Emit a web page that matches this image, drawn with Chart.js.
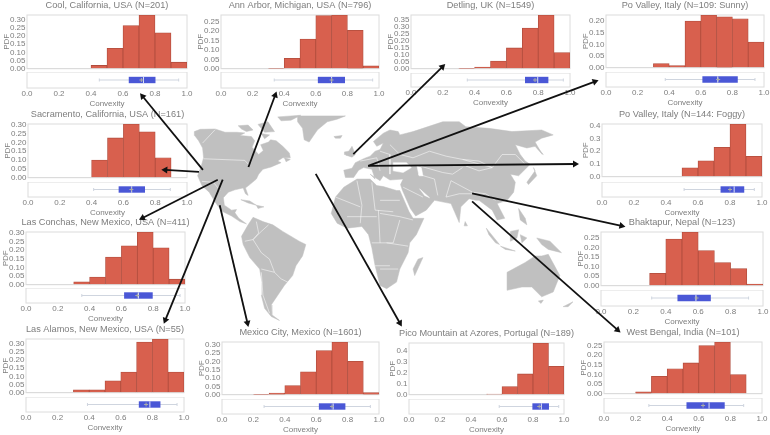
<!DOCTYPE html>
<html>
<head>
<meta charset="utf-8">
<title>Convexity by site</title>
<script src="https://cdn.jsdelivr.net/npm/chart.js@4"></script>
<style>
html,body{margin:0;padding:0;background:#fff;width:770px;height:435px;overflow:hidden}
canvas{position:absolute;filter:blur(.3px)}
</style>
</head>
<body>
<script>
// ======================
// data
const binLabels = ["0.0","0.1","0.2","0.3","0.4","0.5","0.6","0.7","0.8","0.9"];

const siteTitles = [
  "Cool, California, USA (N=201)",
  "Ann Arbor, Michigan, USA (N=796)",
  "Detling, UK (N=1549)",
  "Po Valley, Italy (N=109: Sunny)",
  "Sacramento, California, USA (N=161)",
  "Po Valley, Italy (N=144: Foggy)",
  "Las Conchas, New Mexico, USA (N=411)",
  "Bhaktapur, Nepal (N=123)",
  "Las Alamos, New Mexico, USA (N=55)",
  "Mexico City, Mexico (N=1601)",
  "Pico Mountain at Azores, Portugal (N=189)",
  "West Bengal, India (N=101)"
];

const pdfCool       = [0,0,0,0,.02,.125,.265,.33,.22,.04];
const pdfAnnArbor   = [0,0,0,.002,.055,.158,.283,.286,.205,.015];
const pdfDetling    = [0,0,0,.002,.012,.055,.148,.29,.383,.115];
const pdfPoSunny    = [0,0,0,.018,.009,.2,.226,.218,.21,.11];
const pdfSacramento = [0,0,0,0,.1,.225,.304,.26,.113,0];
const pdfPoFoggy    = [0,0,0,0,0,.07,.125,.23,.413,.16];
const pdfConchas    = [0,0,0,.017,.044,.16,.225,.305,.213,.032];
const pdfBhaktapur  = [0,0,0,.065,.245,.282,.185,.122,.09,.008];
const pdfAlamos     = [0,0,0,.018,.018,.073,.127,.31,.329,.127];
const pdfMexico     = [0,0,.001,.01,.055,.137,.265,.316,.2,.012];
const pdfPico       = [0,0,0,0,0,.005,.075,.19,.473,.26];
const pdfBengal     = [0,0,.01,.09,.13,.16,.25,.269,.1,0];

// lo, q1, median, q3, hi, mean
const boxCool       = [.452,.636,.728,.803,.948,.715];
const boxAnnArbor   = [.337,.613,.70,.785,.96,.70];
const boxDetling    = [.354,.717,.797,.864,.958,.78];
const boxPoSunny    = [.375,.61,.707,.834,.943,.71];
const boxSacramento = [.413,.57,.652,.736,.895,.65];
const boxPoFoggy    = [.513,.741,.826,.889,.952,.80];
const boxConchas    = [.351,.617,.707,.797,.969,.70];
const boxBhaktapur  = [.313,.472,.586,.678,.911,.59];
const boxAlamos     = [.389,.714,.784,.851,.956,.76];
const boxMexico     = [.268,.617,.708,.786,.945,.70];
const boxPico       = [.582,.796,.854,.903,.966,.84];
const boxBengal     = [.284,.522,.665,.764,.884,.627];

const pdfTop  = [.33,.286,.383,.226,.304,.413,.305,.282,.329,.316,.473,.269];
const pdfStep = [.05,.05,.05,.05,.05,.1,.05,.05,.05,.05,.1,.05];

// ======================
// where each panel sits: left, right, hist top, hist bottom, box top, box bottom
const panelRects = [
  [27,187,15,69,72,88],
  [221,379,15,69,72,88],
  [411,570,15,69,73,87],
  [606,764,15,68,72,87],
  [28,187,124,178,182,197],
  [602,762,124,177,182,197],
  [26,185,232,285,288,303],
  [601,763,232,286,290,306],
  [26,184,339,393,397,412],
  [222,379,342,395,399,414],
  [409,564,343,395,399,414],
  [604,762,342,394,398,413]
];

const allPdf = [pdfCool,pdfAnnArbor,pdfDetling,pdfPoSunny,pdfSacramento,pdfPoFoggy,pdfConchas,pdfBhaktapur,pdfAlamos,pdfMexico,pdfPico,pdfBengal];
const allBox = [boxCool,boxAnnArbor,boxDetling,boxPoSunny,boxSacramento,boxPoFoggy,boxConchas,boxBhaktapur,boxAlamos,boxMexico,boxPico,boxBengal];

// arrows: from, to (page pixels)
const arrowPaths = [
  [[201,169],[140,94]],
  [[247,166],[274,93]],
  [[353,153],[443,64]],
  [[368,165],[597,79]],
  [[368,165],[577,163]],
  [[473,193],[624,226]],
  [[473,201],[620,332]],
  [[315,173],[400,325]],
  [[218,205],[246,325]],
  [[221,179],[163,322]],
  [[216,179],[140,218]],
  [[197,171],[163,169]]
];

// map outline, traced in the 3x crops. west = 180,110 origin, east = 380,110 origin
const westLand = [
  // north america
  [[37,60],[55,53],[100,52],[130,62],[165,62],[190,64],[175,72],[210,75],[220,88],[212,108],[232,130],[246,118],[238,100],[262,92],[268,85],[285,88],[305,105],[325,125],[328,140],[305,140],[290,150],[300,155],[270,168],[245,175],[232,190],[225,205],[205,222],[192,232],[200,255],[192,250],[185,232],[160,238],[140,245],[125,262],[128,285],[150,300],[165,298],[160,308],[172,325],[195,342],[175,335],[150,318],[120,303],[100,275],[82,245],[60,225],[47,195],[58,165],[65,140],[62,110],[50,88],[38,72]],
  // arctic islands
  [[170,42],[200,40],[215,55],[195,60],[180,52]],
  [[230,38],[260,30],[280,60],[250,62],[240,50]],
  [[290,15],[360,10],[330,25],[300,27]],
  [[240,66],[265,70],[250,82]],
  [[310,140],[328,145],[315,152]],
  // greenland
  [[350,12],[495,12],[470,22],[440,30],[410,55],[385,92],[370,85],[365,50],[350,30]],
  [[460,75],[485,72],[480,80],[465,80]],
  // caribbean
  [[178,268],[205,272],[225,285],[200,278]],
  [[225,285],[248,290],[230,295]],
  // south america
  [[215,322],[245,335],[275,345],[305,365],[355,395],[375,405],[365,440],[345,470],[335,500],[310,530],[290,560],[270,590],[272,620],[295,637],[270,625],[250,600],[240,560],[242,520],[235,480],[205,445],[185,405],[180,380],[200,345]],
  // uk + ireland
  [[515,105],[525,130],[515,138],[497,132]],
  [[492,122],[505,120],[500,132],[492,130]]
];

const eastLand = [
  // eurasia
  [[-110,178],[-85,172],[-75,155],[-48,142],[-30,135],[-15,120],[0,115],[10,95],[-10,105],[-20,90],[10,65],[30,55],[55,60],[60,70],[100,60],[130,50],[160,40],[190,30],[240,30],[260,45],[330,50],[400,60],[490,55],[525,70],[490,80],[470,92],[492,130],[470,105],[445,110],[410,100],[425,130],[440,150],[455,160],[440,175],[420,195],[395,190],[410,215],[405,245],[385,270],[355,280],[378,325],[355,330],[340,300],[320,285],[300,270],[290,270],[270,265],[245,290],[240,338],[215,280],[165,270],[140,300],[108,318],[92,295],[68,240],[62,222],[70,205],[30,208],[10,195],[0,210],[-30,190],[-15,205],[-25,175],[-50,170],[-65,178],[-80,200],[-105,200]],
  // africa
  [[-110,230],[-70,205],[-30,205],[-10,225],[10,228],[50,240],[60,240],[88,305],[100,325],[133,325],[110,375],[90,400],[85,430],[60,480],[50,520],[20,540],[0,530],[-15,470],[-25,415],[-35,375],[-55,350],[-100,355],[-130,340],[-148,310],[-135,260]],
  // islands
  [[322,355],[362,405],[350,400],[330,375]],
  [[395,365],[420,360],[415,385],[395,395]],
  [[365,410],[410,425],[380,420]],
  [[425,375],[445,385],[430,400]],
  [[475,385],[515,395],[550,430],[510,420],[490,405]],
  [[420,295],[440,325],[445,345],[425,330]],
  [[445,215],[470,180],[465,170],[475,195],[450,222]],
  [[470,100],[495,130],[480,115]],
  [[385,490],[440,460],[470,440],[490,440],[510,435],[545,500],[525,550],[490,565],[460,535],[430,535],[385,545]],
  [[130,445],[105,500],[100,480],[115,450]],
  [[555,595],[585,580],[570,595]],
  [[480,578],[495,575],[488,585]],
  [[258,335],[265,348],[255,348]]
];

const eastWater = [
  [[112,165],[125,170],[130,195],[118,195]],
  [[40,155],[80,155],[95,170],[70,185],[40,180]],
  [[120,235],[150,262],[135,255]]
];

const westBorders = [
  [[65,143],[190,148],[205,165]],
  [[100,54],[62,95]],
  [[60,212],[95,215],[115,240]],
  [[225,335],[232,370],[215,390],[190,395]],
  [[262,345],[240,365],[215,390],[240,430],[265,450],[280,490],[300,510],[320,520]],
  [[240,490],[245,560],[265,615]],
  [[240,480],[280,490]],
  [[465,260],[540,290]],
  [[530,210],[545,285],[540,340]],
  [[575,215],[585,300],[640,305]],
  [[500,320],[590,320]],
  [[595,300],[600,400]],
  [[575,400],[640,400]],
  [[585,470],[630,470]]
];

const eastBorders = [
  [[0,270],[60,270]],
  [[0,310],[60,320],[100,330]],
  [[60,330],[40,400]],
  [[20,400],[85,410]],
  [[0,480],[55,480]],
  [[30,100],[60,130],[100,140],[150,120],[200,135],[250,145],[300,150],[340,170],[370,130],[410,130],[440,160]],
  [[120,165],[190,185],[220,190],[250,170]],
  [[250,145],[340,170],[300,180],[260,165]],
  [[215,210],[280,245],[320,250],[350,270]],
  [[215,210],[200,260],[240,250],[280,250]],
  [[115,190],[165,205],[175,255]],
  [[70,230],[130,260]],
  [[0,120],[30,130],[30,190]],
  [[-60,150],[-10,140],[0,180]]
];

// ======================
const RED = "#d8604e", REDLINE = "#b04c3d", BLUE = "#4a57d6", TXT = "#7d7d7d", FRAME = "#dcdcdc";

Chart.defaults.animation = false;
Chart.defaults.responsive = false;
Chart.defaults.devicePixelRatio = 1;
Chart.defaults.font.family = "'Liberation Sans', Arial, sans-serif";
Chart.defaults.color = TXT;
Chart.defaults.plugins.legend.display = false;
Chart.defaults.plugins.tooltip.enabled = false;

const frame = {
  id: "frame",
  beforeDatasetsDraw(chart){
    const a = chart.chartArea, c = chart.ctx;
    c.save();
    c.strokeStyle = FRAME;
    c.lineWidth = 1;
    c.strokeRect(a.left, a.top, a.right - a.left, a.bottom - a.top);
    c.restore();
  }
};

function addCanvas(left, top, w, h, z){
  const cv = document.createElement("canvas");
  cv.width = w; cv.height = h;
  cv.style.left = left + "px";
  cv.style.top = top + "px";
  cv.style.zIndex = z || 1;
  document.body.appendChild(cv);
  return cv.getContext("2d");
}

const SIDE = 27;
const TITLE_SIZE = 9.2, TICK_SIZE = 8;

function drawHist(i){
  const [x0, x1, top, bottom] = panelRects[i];
  const head = Math.min(top, 15);
  const oneDecimal = pdfStep[i] === .1;
  new Chart(addCanvas(x0 - SIDE, top - head, x1 - x0 + SIDE * 2, bottom - top + head + 6), {
    type: "bar",
    data: {
      labels: binLabels,
      datasets: [{
        yAxisID: "y",
        data: allPdf[i],
        backgroundColor: RED,
        borderColor: REDLINE,
        borderWidth: .8,
        barPercentage: 1,
        categoryPercentage: 1
      }]
    },
    options: {
      layout: { autoPadding: false, padding: { left: 0, right: 0, top: 0, bottom: 6 } },
      plugins: {
        title: {
          display: true,
          text: siteTitles[i],
          color: TXT,
          font: { size: TITLE_SIZE, weight: "normal" },
          padding: { top: 0, bottom: head - TITLE_SIZE * 1.2 }
        }
      },
      scales: {
        x: { display: false },
        // empty axis on the right, only so the title centres on the plot
        yr: {
          position: "right",
          afterFit: (s) => { s.width = SIDE; },
          grid: { display: false },
          border: { display: false },
          ticks: { display: false }
        },
        y: {
          position: "left",
          min: 0,
          max: pdfTop[i],
          afterFit: (s) => { s.width = SIDE; },
          grid: {
            drawTicks: false,
            color: (c) => (c.tick && c.tick.value === 0 ? "#d5d5d5" : "transparent")
          },
          border: { display: false },
          ticks: {
            stepSize: pdfStep[i],
            autoSkip: false,
            includeBounds: false,
            padding: 1.5,
            font: { size: TICK_SIZE },
            callback: (v) => v.toFixed(oneDecimal ? 1 : 2)
          },
          title: {
            display: true,
            text: "PDF",
            font: { size: TICK_SIZE },
            padding: { top: oneDecimal ? 6 : 1.5, bottom: 0 }
          }
        }
      }
    },
    plugins: [frame]
  });
}

function drawBox(i){
  const [x0, x1, , , top, bottom] = panelRects[i];
  const [lo, q1, med, q3, hi, mean] = allBox[i];
  const under = 23;
  new Chart(addCanvas(x0 - SIDE, top, x1 - x0 + SIDE * 2, bottom - top + under), {
    type: "scatter",
    data: {
      // first dataset ends up on top
      datasets: [
        { data: [{x:mean,y:0}], pointStyle: "cross", pointRadius: 2, pointBorderColor: "#a9aca6", pointBorderWidth: 1 },
        { data: [{x:med,y:-.42},{x:med,y:.42}], showLine: true, borderColor: "#dfe3f7", borderWidth: 1, pointRadius: 0 },
        { data: [{x:q1,y:0},{x:q3,y:0}], showLine: true, borderColor: BLUE, borderWidth: 6.4, pointRadius: 0 },
        { data: [{x:lo,y:0},{x:hi,y:0}], showLine: true, borderColor: "#cfd5df", borderWidth: 1,
          pointStyle: "line", pointRotation: 90, pointRadius: 1.5, pointBorderColor: "#cfd5df", pointBorderWidth: 1 }
      ]
    },
    options: {
      layout: { autoPadding: false, padding: { left: SIDE, right: SIDE, top: 0, bottom: 0 } },
      scales: {
        y: { display: false, min: -1, max: 1 },
        x: {
          min: 0,
          max: 1,
          afterFit: (s) => { s.height = under; },
          grid: { drawOnChartArea: false, drawTicks: false, tickLength: 0 },
          border: { display: false },
          ticks: {
            stepSize: .2,
            padding: 1,
            maxRotation: 0,
            font: { size: TICK_SIZE },
            callback: (v) => v.toFixed(1)
          },
          title: {
            display: true,
            text: "Convexity",
            font: { size: TICK_SIZE },
            padding: { top: 2, bottom: 2.5 }
          }
        }
      }
    },
    plugins: [frame]
  });
}

panelRects.forEach((_, i) => { drawHist(i); drawBox(i); });

// map and arrows go on one page sized chart over the panels
const fromWest = (pts) => pts.map(([x, y]) => ({ x: 180 + x / 3, y: 110 + y / 3 }));
const fromEast = (pts) => pts.map(([x, y]) => ({ x: 380 + x / 3, y: 110 + y / 3 }));
const closed = (pts) => pts.concat([pts[0]]);

const mapSets = [];
const pushShape = (pts, color) => mapSets.push({
  data: closed(pts), showLine: true, fill: "shape", backgroundColor: color,
  borderColor: color, borderWidth: .5, pointRadius: 0, tension: 0
});
const pushBorder = (pts) => mapSets.push({
  data: pts, showLine: true, fill: false, borderColor: "rgba(255,255,255,.75)",
  borderWidth: .7, pointRadius: 0
});

// arrows first so they sit on top of the land
arrowPaths.forEach(([a, b]) => {
  const angle = Math.atan2(b[0] - a[0], a[1] - b[1]) * 180 / Math.PI;
  mapSets.push({
    data: [{ x: a[0], y: a[1] }, { x: b[0], y: b[1] }],
    showLine: true,
    borderColor: "#111",
    borderWidth: 1.8,
    pointStyle: "triangle",
    pointRotation: angle,
    pointRadius: [0, 4],
    pointBackgroundColor: "#111",
    pointBorderColor: "#111",
    pointBorderWidth: 0
  });
});
westBorders.forEach((p) => pushBorder(fromWest(p)));
eastBorders.forEach((p) => pushBorder(fromEast(p)));
eastWater.forEach((p) => pushShape(fromEast(p), "#ffffff"));
westLand.forEach((p) => pushShape(fromWest(p), "#c0c0c0"));
eastLand.forEach((p) => pushShape(fromEast(p), "#c0c0c0"));

new Chart(addCanvas(0, 0, 770, 435, 5), {
  type: "scatter",
  data: { datasets: mapSets },
  options: {
    layout: { padding: 0 },
    scales: {
      x: { display: false, min: 0, max: 770 },
      y: { display: false, min: 0, max: 435, reverse: true }
    }
  }
});
</script>
</body>
</html>
